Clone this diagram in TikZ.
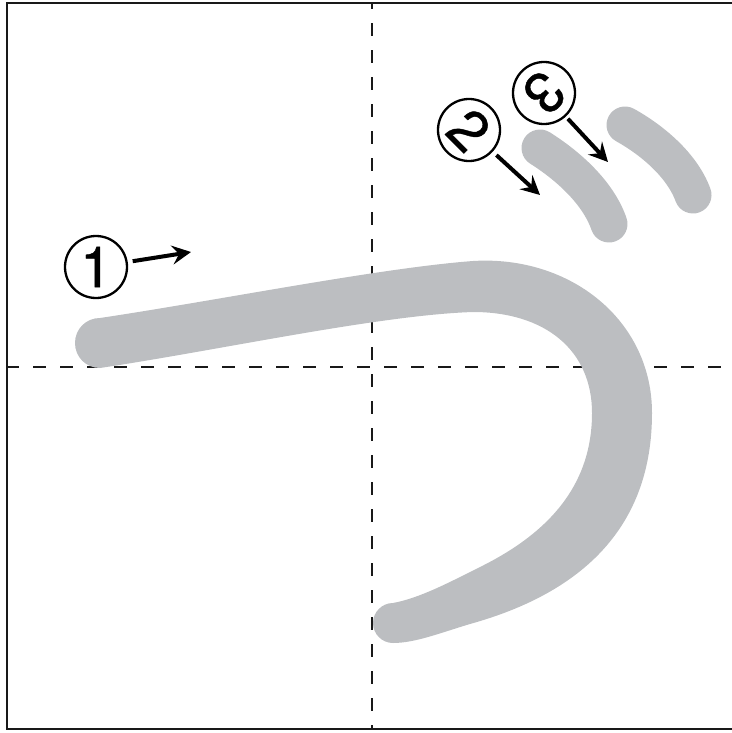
\documentclass[tikz,border=0pt]{standalone}
\usepackage{fontspec}
\setmainfont{TeX Gyre Heros}
\usetikzlibrary{arrows.meta}
\definecolor{strokegray}{RGB}{188,190,193}
\tikzset{
  frameline/.style={line width=2.3pt, draw=black!90},
  guide/.style={line width=2pt, draw=black!90, dash pattern=on 13pt off 14pt},
  brush/.style={fill=strokegray, draw=none},
  shortbrush/.style={draw=strokegray, line width=37pt, line cap=round},
  numc/.style={circle, draw, line width=2.3pt, minimum size=62pt, inner sep=0pt,
    font=\fontsize{57}{57}\selectfont\addfontfeature{FakeBold=0.7}},
  arr/.style={line width=4pt, -{Stealth[length=19pt,width=19pt,inset=7pt]}}
}
\begin{document}
\begin{tikzpicture}[x=1pt,y=-1pt]
\useasboundingbox (0,0) rectangle (731,733);
% frame
\draw[frameline] (7,3.2) rectangle (745,729);
% guide lines
\draw[guide, dash phase=7pt] (371.5,3.2) -- (371.5,729);
\draw[guide, dash phase=1pt] (7,367) -- (731,367);
% main stroke
\fill[brush] (100,368) .. controls (86,368) and (75,357) .. (75,343)
  .. controls (75,329) and (86,318) .. (100,318)
  .. controls (220,300) and (380,268) .. (473,261)
  .. controls (570,255) and (652,320) .. (652,413)
  .. controls (652,525) and (585,592) .. (470,624)
  .. controls (440,633) and (415,643) .. (393,643)
  .. controls (382,643) and (373,634) .. (373,623)
  .. controls (373,612) and (382,603) .. (393,603)
  .. controls (420,598) and (450,582) .. (480,567)
  .. controls (555,530) and (592,480) .. (592,413)
  .. controls (592,350) and (545,312) .. (473,312)
  .. controls (380,315) and (220,350) .. (100,368) -- cycle;
% short strokes
\draw[shortbrush] (540,148) .. controls (567,165) and (598,192) .. (609,224);
\draw[shortbrush] (625,125) .. controls (652,140) and (682,165) .. (693,195);
% numbers
\node[numc] (c1) at (96,267) {1};
\node[numc, rotate=-45] (c2) at (469,130) {2};
\node[numc, rotate=-135] (c3) at (544,93) {3};
\coordinate (a1) at (191,252);
\coordinate (a2) at (540,195);
\coordinate (a3) at (608,162);
\draw[arr, shorten <=5pt] (c1) -- (a1);
\draw[arr, shorten <=5pt] (c2) -- (a2);
\draw[arr, shorten <=3pt] (c3) -- (a3);
\end{tikzpicture}
\end{document}
